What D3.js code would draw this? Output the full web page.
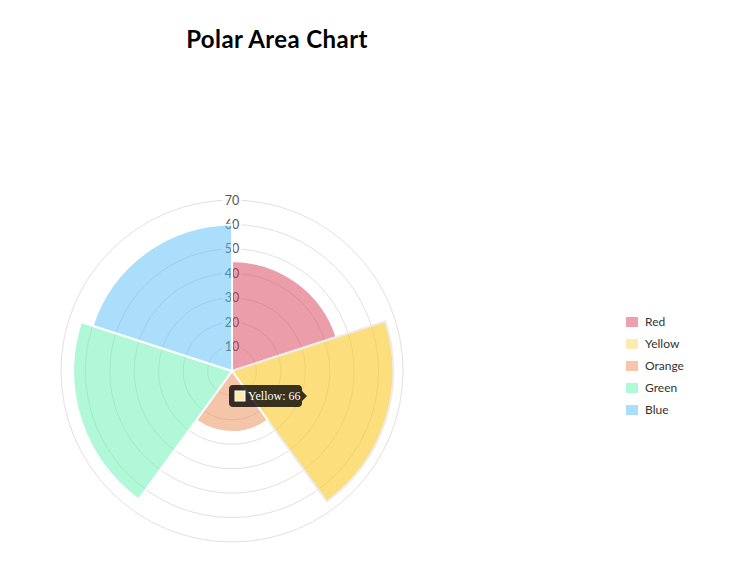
<!DOCTYPE html>
<html>
<head>
<meta charset="utf-8">
<script src="https://cdn.jsdelivr.net/npm/d3@7"></script>
<style>
  body { margin: 0; background: #fff; }
  svg { display: block; font-family: Lato, "Open Sans", sans-serif; }
</style>
</head>
<body>
<svg width="736" height="578"></svg>
<script>
// chart data
var labels = ["Red", "Yellow", "Orange", "Green", "Blue"];
var values = [45, 66, 25, 65, 60];
var ticks = [10, 20, 30, 40, 50, 60, 70];
var hovered = 1; // Yellow is hovered in the picture

// fills drawn over the grid (translucent), legend swatches are the plain tint
var fills = ["rgba(215,61,85,0.5)", "rgba(250,200,38,0.6)", "rgba(235,139,85,0.5)", "rgba(97,241,177,0.5)", "rgba(85,189,245,0.5)"];
var swatch = ["#eda0ab", "#fdebb0", "#f6c6aa", "#b0f8d8", "#aadefa"];

var svg = d3.select("svg");
var cx = 232, cy = 371, rMax = 171;

var r = d3.scaleLinear()
    .domain([0, d3.max(ticks)])
    .range([0, rMax]);

// title
svg.append("text")
    .attr("x", 277)
    .attr("y", 48)
    .attr("text-anchor", "middle")
    .attr("font-size", 24)
    .attr("font-weight", "bold")
    .attr("letter-spacing", 0.4)
    .attr("fill", "#000")
    .text("Polar Area Chart");

var g = svg.append("g")
    .attr("transform", "translate(" + cx + "," + cy + ")");

// grid circles
g.selectAll("circle.grid")
    .data(ticks)
    .enter()
    .append("circle")
    .attr("class", "grid")
    .attr("r", function(d) { return r(d); })
    .attr("fill", "none")
    .attr("stroke", "#e1e1e1")
    .attr("stroke-width", 1);

// tick labels with backdrop (under the segments, like the original)
var tk = g.selectAll("g.tick")
    .data(ticks)
    .enter()
    .append("g")
    .attr("class", "tick")
    .attr("transform", function(d) { return "translate(0," + (-r(d)) + ")"; });

tk.append("rect")
    .attr("x", -10)
    .attr("y", -8)
    .attr("width", 20)
    .attr("height", 16)
    .attr("fill", "rgba(255,255,255,0.75)");

tk.append("text")
    .attr("text-anchor", "middle")
    .attr("dy", "0.36em")
    .attr("font-size", 12.5)
    .attr("fill", "#555")
    .text(function(d) { return d; });

// segments
var pie = d3.pie()
    .sort(null)
    .value(function() { return 1; });

var arc = d3.arc()
    .innerRadius(0)
    .outerRadius(function(d) { return r(d.data); });

g.selectAll("path.seg")
    .data(pie(values))
    .enter()
    .append("path")
    .attr("class", "seg")
    .attr("d", arc)
    .attr("fill", function(d, i) { return fills[i]; })
    .attr("stroke", function(d, i) { return i === hovered ? "#ececec" : "#fff"; })
    .attr("stroke-width", 2)
    .attr("stroke-linejoin", "miter");

// legend
var legend = svg.append("g")
    .attr("transform", "translate(626,322)");

var item = legend.selectAll("g")
    .data(labels)
    .enter()
    .append("g")
    .attr("transform", function(d, i) { return "translate(0," + (i * 22) + ")"; });

item.append("rect")
    .attr("x", 0)
    .attr("y", -5)
    .attr("width", 12)
    .attr("height", 10)
    .attr("fill", function(d, i) { return swatch[i]; });

item.append("text")
    .attr("x", 19)
    .attr("dy", "0.35em")
    .attr("font-size", 12)
    .attr("fill", "#333")
    .text(function(d) { return d; });

// tooltip for the hovered segment
var tip = svg.append("g")
    .attr("transform", "translate(229,385)");

var w = 73, h = 22, rr = 4;
tip.append("path")
    .attr("d", "M" + rr + ",0 H" + (w - rr) + " Q" + w + ",0 " + w + "," + rr +
        " V" + (h / 2 - 5) + " L" + (w + 5) + "," + (h / 2) + " L" + w + "," + (h / 2 + 5) +
        " V" + (h - rr) + " Q" + w + "," + h + " " + (w - rr) + "," + h +
        " H" + rr + " Q0," + h + " 0," + (h - rr) + " V" + rr + " Q0,0 " + rr + ",0 Z")
    .attr("fill", "rgba(0,0,0,0.78)");

tip.append("rect")
    .attr("x", 6)
    .attr("y", 6)
    .attr("width", 10)
    .attr("height", 10)
    .attr("fill", swatch[hovered])
    .attr("stroke", "#fff")
    .attr("stroke-width", 1);

tip.append("text")
    .attr("x", 19)
    .attr("y", 15)
    .attr("font-family", "'Liberation Serif', 'DejaVu Serif', serif")
    .attr("font-size", 12)
    .attr("fill", "#fff")
    .text(labels[hovered] + ": " + values[hovered]);
</script>
</body>
</html>
